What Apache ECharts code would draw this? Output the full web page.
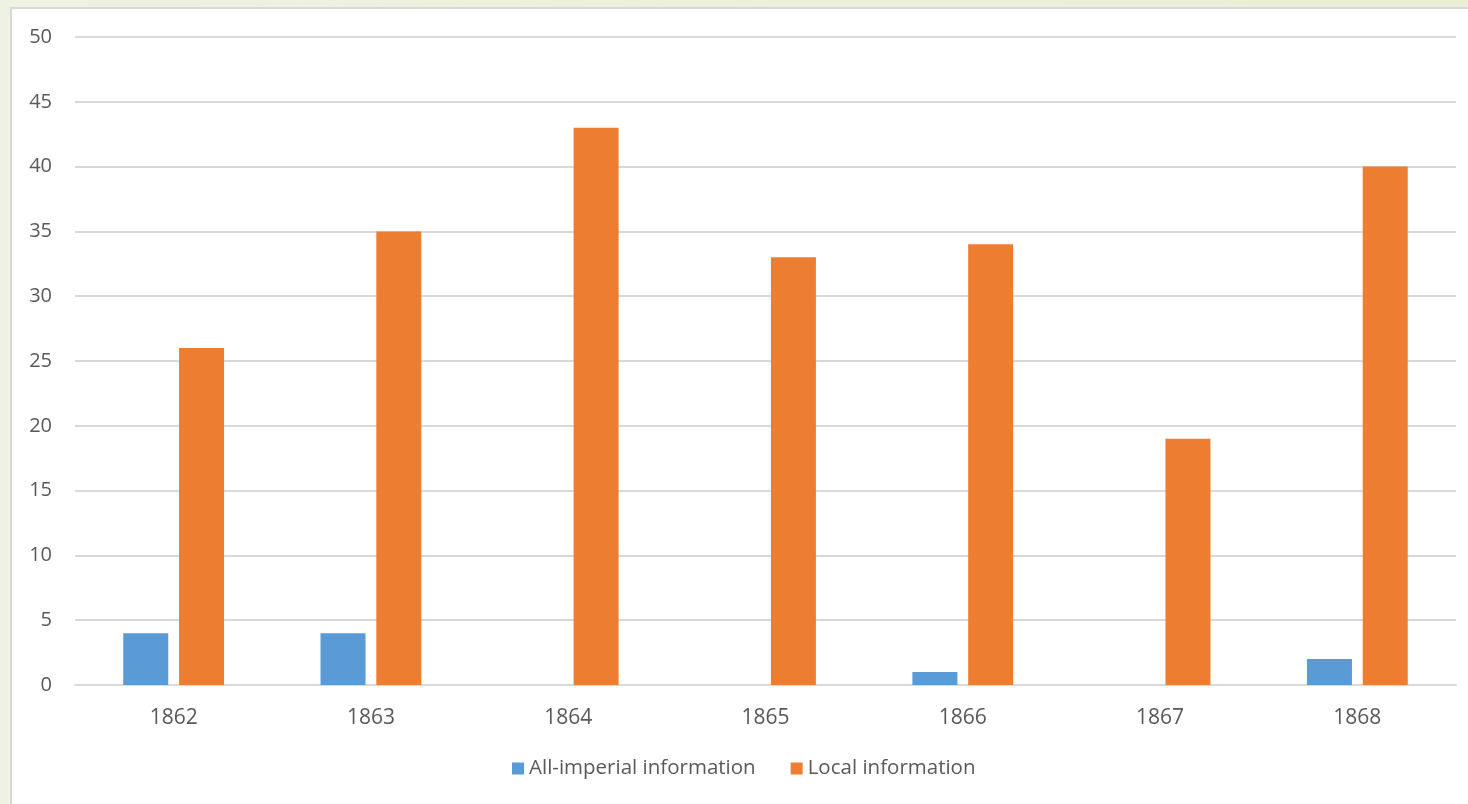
<!DOCTYPE html>
<html>
<head>
<meta charset="utf-8">
<script src="https://cdn.jsdelivr.net/npm/echarts@6/dist/echarts.min.js"></script>
<style>
html,body{margin:0;padding:0;width:1468px;height:804px;overflow:hidden;background:linear-gradient(90deg,#eef2e2,#e9efd6);}
#panel{position:absolute;left:10px;top:7px;width:1480px;height:820px;background:#fff;border:2px solid #d9d9d9;box-sizing:border-box;}
#chart{position:absolute;left:0;top:0;width:1468px;height:804px;}
</style>
</head>
<body>
<div id="panel"></div>
<div id="chart"></div>
<script>
const categories = ['1862','1863','1864','1865','1866','1867','1868'];
const allImperial = [4, 4, 0, 0, 1, 0, 2];
const localInfo = [26, 35, 43, 33, 34, 19, 40];
const yTicks = {min: 0, max: 50, interval: 5};

const chart = echarts.init(document.getElementById('chart'), null, {renderer: 'canvas'});
const font = '"Open Sans", "Noto Sans", sans-serif';
chart.setOption({
  backgroundColor: 'transparent',
  animation: false,
  textStyle: {fontFamily: font},
  grid: {left: 75, right: 12, top: 37, bottom: 119, containLabel: false},
  legend: {
    bottom: 20,
    left: 507,
    itemWidth: 12,
    itemHeight: 12,
    itemGap: 35,
    icon: 'rect',
    textStyle: {color: '#595959', fontSize: 20.5, fontFamily: font},
    data: ['All-imperial information', 'Local information']
  },
  xAxis: {
    type: 'category',
    data: categories,
    axisLine: {show: true, lineStyle: {color: '#d9d9d9', width: 2}},
    axisTick: {show: false},
    axisLabel: {color: '#595959', fontSize: 21, margin: 23, fontFamily: font}
  },
  yAxis: {
    type: 'value',
    min: yTicks.min, max: yTicks.max, interval: yTicks.interval,
    axisLine: {show: false},
    axisTick: {show: false},
    axisLabel: {color: '#595959', fontSize: 20, margin: 23, fontFamily: font},
    splitLine: {lineStyle: {color: '#d9d9d9', width: 2}}
  },
  series: [
    {name: 'All-imperial information', type: 'bar', data: allImperial,
     itemStyle: {color: '#5b9bd5'}, barWidth: 45, barGap: '24%'},
    {name: 'Local information', type: 'bar', data: localInfo,
     itemStyle: {color: '#ed7d31'}, barWidth: 45, barGap: '24%'}
  ]
});
</script>
</body>
</html>
